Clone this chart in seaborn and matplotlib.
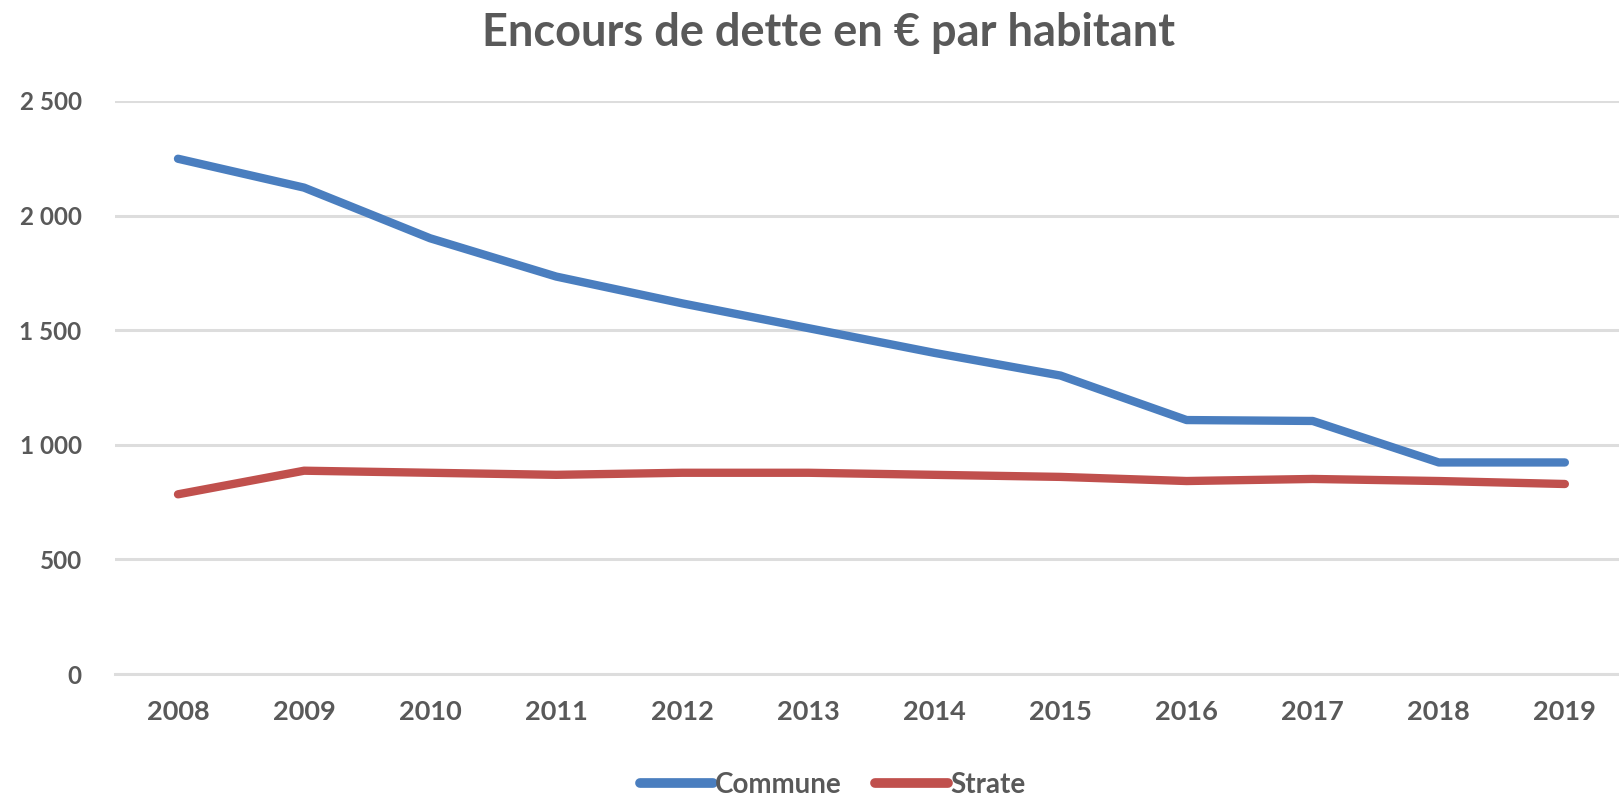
import pandas as pd
import seaborn as sns
import matplotlib.pyplot as plt
from matplotlib.ticker import FuncFormatter

# values
years = [2008, 2009, 2010, 2011, 2012, 2013, 2014, 2015, 2016, 2017, 2018, 2019]
commune = [2248, 2122, 1901, 1734, 1617, 1509, 1401, 1302, 1108, 1104, 923, 923]
strate = [784, 887, 878, 869, 878, 878, 869, 860, 842, 851, 842, 829]
series_names = ["Commune", "Strate"]
colors = ["#4A7EBF", "#C0504D"]

df = pd.DataFrame({
    "annee": years * 2,
    "valeur": commune + strate,
    "serie": [series_names[0]] * len(years) + [series_names[1]] * len(years),
})

sns.set_style("white")
plt.rcParams["font.family"] = ["Lato", "DejaVu Sans"]
plt.rcParams["font.weight"] = "bold"

grey = "#595959"
fig = plt.figure(figsize=(16.19, 7.97), dpi=100)
ax = fig.add_axes([0.071, 0.1543, 0.9345, 0.719])

sns.lineplot(data=df, x="annee", y="valeur", hue="serie", palette=colors,
             linewidth=6, solid_capstyle="round", ax=ax, legend=True)

ax.set_xlim(2007.5, 2019.5)
ax.set_ylim(0, 2500)
ax.set_xticks(years)
ax.set_yticks([0, 500, 1000, 1500, 2000, 2500])
ax.yaxis.set_major_formatter(FuncFormatter(lambda v, p: f"{v:,.0f}".replace(",", " ")))
ax.grid(axis="y", color="#DDDDDD", linewidth=2.2)
ax.set_axisbelow(True)
for s in ["top", "right", "left"]:
    ax.spines[s].set_visible(False)
ax.spines["bottom"].set_color("#DDDDDD")
ax.spines["bottom"].set_linewidth(2.2)
ax.tick_params(axis="both", length=0, labelcolor=grey)
ax.tick_params(axis="y", pad=24, labelsize=17.5)
ax.tick_params(axis="x", pad=19, labelsize=19.5)
for lab in ax.get_xticklabels() + ax.get_yticklabels():
    lab.set_fontweight("bold")
ax.set_xlabel("")
ax.set_ylabel("")

handles, labels = ax.get_legend_handles_labels()
for h in handles:
    h.set_linewidth(7)
    h.set_solid_capstyle("round")
ax.legend(handles, labels, loc="center", bbox_to_anchor=(833 / 1619, 12 / 797),
          bbox_transform=fig.transFigure, ncol=2, frameon=False,
          handlelength=2.6, handletextpad=0.1, columnspacing=1.2,
          labelcolor=grey, prop={"weight": "bold", "size": 20})

fig.text(0.512, 0.9586, "Encours de dette en € par habitant", ha="center", va="center",
         fontsize=32.5, fontweight="bold", color=grey)

fig.savefig("out.png", dpi=100)
